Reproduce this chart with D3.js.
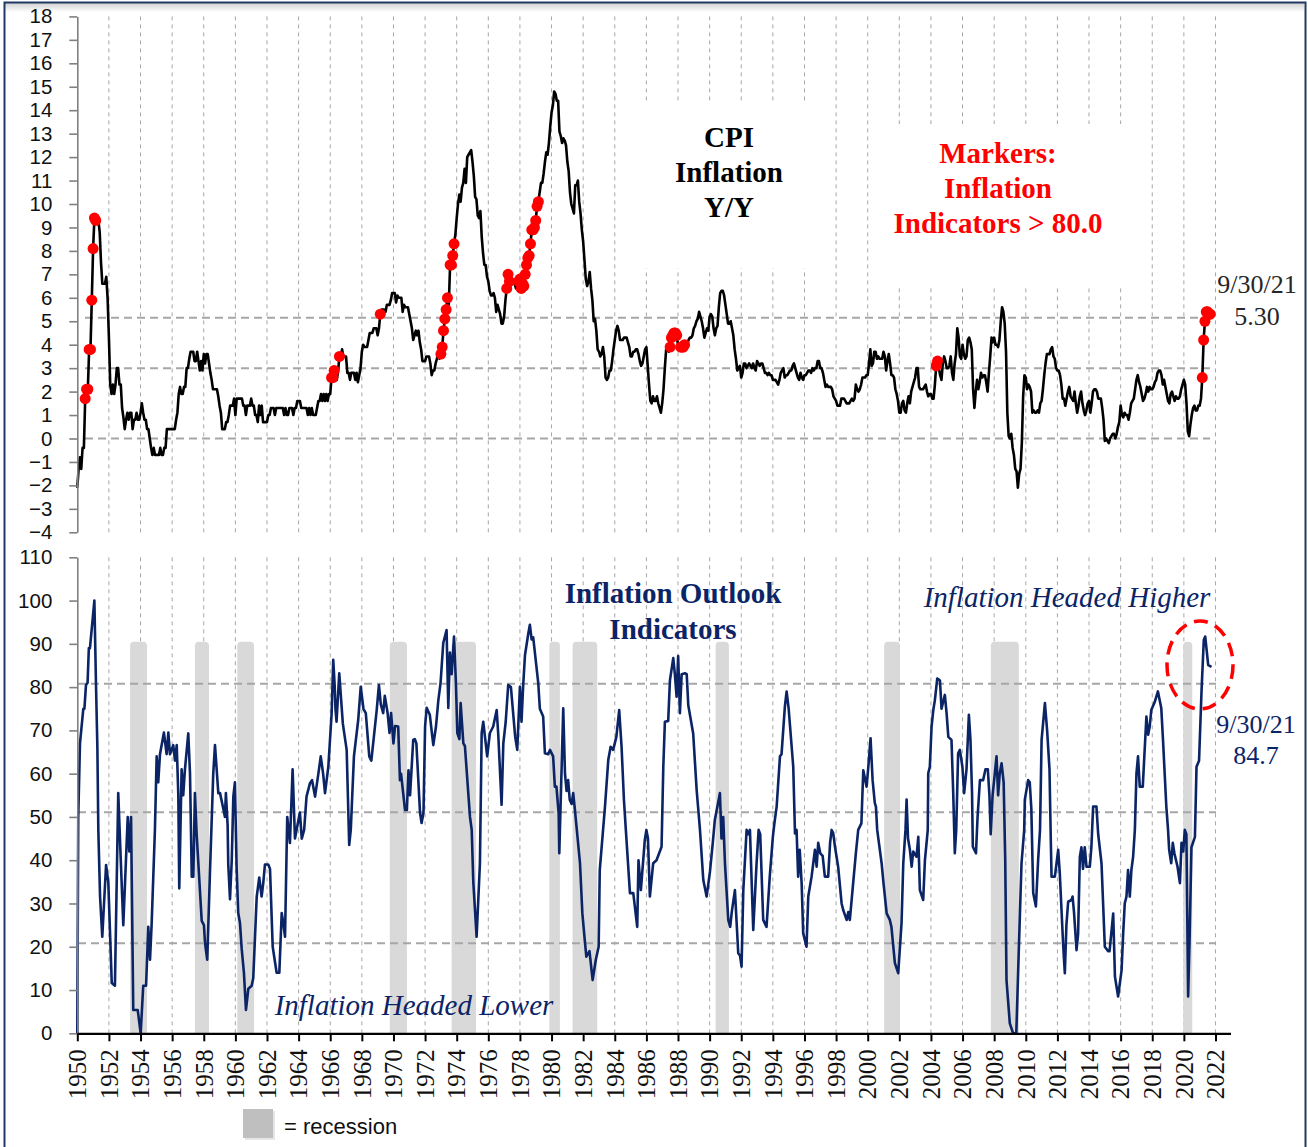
<!DOCTYPE html>
<html><head><meta charset="utf-8">
<script src="https://cdn.jsdelivr.net/npm/d3@7"></script>
<style>body{margin:0;background:#fff} svg{display:block}</style>
</head><body>
<svg id="c" width="1308" height="1147"></svg>
<script>
// ---------- DATA ----------
const cpiStartYear = 1950;
// CPI inflation Y/Y (%), monthly, Jan 1950 .. Sep 2021
const cpiValues = [
-2.1,-1.3,-0.8,-1.3,-0.4,-0.4,1.7,2.1,2.1,3.8,3.8,5.9,
8.1,9.4,9.3,9.3,9.3,8.8,7.5,6.6,6.6,6.6,6.9,6.0,
4.3,2.3,1.9,2.3,1.9,2.3,3.0,3.0,2.3,2.3,1.3,0.9,
0.4,0.8,1.1,0.8,1.1,1.1,0.4,0.8,0.8,1.1,0.8,0.8,
1.1,1.5,1.1,0.8,0.8,0.4,0.4,0.0,-0.4,-0.7,-0.4,-0.7,
-0.7,-0.7,-0.7,-0.4,-0.7,-0.7,-0.4,-0.4,0.4,0.4,0.4,0.4,
0.4,0.4,0.4,0.8,1.1,1.9,2.2,1.9,1.9,2.2,2.2,3.0,
3.0,3.4,3.7,3.7,3.7,3.3,3.3,3.7,3.3,2.9,3.3,2.9,
3.6,3.2,3.6,3.6,3.2,2.8,2.5,2.1,2.1,2.1,2.1,1.8,
1.4,1.1,0.4,0.4,0.4,0.7,0.7,1.0,1.4,1.4,1.4,1.7,
1.0,1.7,1.7,1.7,1.7,1.7,1.4,1.4,1.0,1.4,1.4,1.4,
1.7,1.4,1.4,1.0,1.0,0.7,1.4,1.0,1.4,0.7,0.7,0.7,
0.7,1.0,1.0,1.3,1.3,1.3,1.0,1.3,1.3,1.3,1.3,1.3,
1.3,1.0,1.3,1.0,1.0,1.3,1.3,1.3,1.0,1.3,1.3,1.6,
1.6,1.6,1.3,1.3,1.3,1.3,1.3,1.0,1.3,1.0,1.3,1.0,
1.0,1.0,1.3,1.6,1.6,1.9,1.6,1.9,1.6,1.9,1.6,1.9,
1.9,2.6,2.6,2.9,2.9,2.5,2.9,3.5,3.5,3.8,3.5,3.5,
3.5,2.8,2.8,2.5,2.8,2.8,2.8,2.5,2.8,2.4,2.7,3.0,
3.7,4.0,3.9,3.9,3.9,4.2,4.5,4.5,4.5,4.7,4.7,4.7,
4.4,4.7,5.3,5.5,5.5,5.5,5.4,5.7,5.7,5.7,5.9,6.2,
6.2,6.2,5.8,6.1,6.0,6.0,6.0,5.4,5.7,5.6,5.6,5.6,
5.3,5.0,4.7,4.2,4.4,4.6,4.4,4.6,4.1,3.8,3.3,3.3,
3.3,3.5,3.5,3.5,3.2,2.7,2.9,2.9,3.2,3.4,3.7,3.4,
3.6,3.9,4.6,5.1,5.5,6.0,5.7,7.4,7.4,7.8,8.3,8.7,
9.4,10.0,10.4,10.1,10.7,10.9,11.5,10.9,12.0,12.1,12.2,12.3,
11.8,11.2,10.3,10.2,9.5,9.4,9.7,8.6,7.9,7.4,7.4,6.9,
6.7,6.3,6.1,6.1,6.2,6.0,5.4,5.7,5.5,5.3,4.9,4.9,
5.2,5.9,6.4,7.0,6.7,6.9,6.8,6.6,6.6,6.4,6.7,6.7,
6.8,6.4,6.6,6.5,7.0,7.4,7.7,7.8,8.3,8.9,8.9,9.0,
9.3,9.9,10.1,10.5,10.9,10.9,11.3,11.8,12.2,12.1,12.6,13.3,
13.9,14.2,14.8,14.7,14.4,14.4,13.1,12.9,12.6,12.8,12.7,12.5,
11.8,11.4,10.5,10.0,9.8,9.6,10.8,10.8,11.0,10.1,9.6,8.9,
8.4,7.6,6.8,6.5,6.7,7.1,6.4,5.9,5.0,5.1,4.6,3.8,
3.7,3.5,3.6,3.9,3.5,2.6,2.5,2.6,2.9,2.9,3.3,3.8,
4.2,4.6,4.8,4.6,4.2,4.2,4.2,4.3,4.3,4.3,4.1,3.9,
3.5,3.5,3.7,3.7,3.8,3.8,3.6,3.3,3.1,3.2,3.5,3.8,
3.9,3.1,2.3,1.6,1.5,1.8,1.6,1.6,1.8,1.5,1.3,1.1,
1.5,2.1,3.0,3.8,3.9,3.7,3.9,4.3,4.4,4.5,4.5,4.4,
4.0,3.9,3.9,3.9,3.9,4.0,4.1,4.0,4.2,4.3,4.3,4.4,
4.7,4.8,5.0,5.1,5.4,5.2,5.0,4.7,4.3,4.5,4.7,4.6,
5.2,5.3,5.2,4.7,4.4,4.7,4.8,5.6,6.2,6.3,6.3,6.1,
5.7,5.3,4.9,4.9,5.0,4.7,4.4,3.8,3.4,2.9,3.0,3.1,
2.6,2.8,3.2,3.2,3.0,3.1,3.2,3.1,3.0,3.2,3.0,2.9,
3.3,3.2,3.1,3.2,3.2,3.0,2.8,2.8,2.7,2.8,2.7,2.7,
2.5,2.5,2.5,2.4,2.3,2.5,2.8,2.9,3.0,2.6,2.7,2.7,
2.8,2.9,2.9,3.1,3.2,3.0,2.8,2.6,2.5,2.8,2.6,2.5,
2.7,2.7,2.8,2.9,2.9,2.8,3.0,2.9,3.0,3.0,3.3,3.3,
3.0,3.0,2.8,2.5,2.2,2.3,2.2,2.2,2.2,2.1,1.8,1.7,
1.6,1.4,1.4,1.4,1.7,1.7,1.7,1.6,1.5,1.5,1.5,1.6,
1.7,1.6,1.7,2.3,2.1,2.0,2.1,2.3,2.6,2.6,2.6,2.7,
2.7,3.2,3.8,3.1,3.2,3.7,3.7,3.4,3.5,3.4,3.4,3.4,
3.7,3.5,2.9,3.3,3.6,3.2,2.7,2.7,2.6,2.1,1.9,1.6,
1.1,1.1,1.5,1.6,1.2,1.1,1.5,1.8,1.5,2.0,2.2,2.4,
2.6,3.0,3.0,2.2,2.1,2.1,2.1,2.2,2.3,2.0,1.8,1.9,
1.9,1.7,1.7,2.3,3.1,3.3,3.0,2.7,2.5,3.2,3.5,3.3,
3.0,3.0,3.1,3.5,2.8,2.5,3.2,3.6,4.7,4.3,3.5,3.4,
4.0,3.6,3.4,3.5,4.2,4.3,4.1,3.8,2.1,1.3,2.0,2.5,
2.1,2.4,2.8,2.6,2.7,2.7,2.4,2.0,2.8,3.5,4.3,4.1,
4.3,4.0,4.0,3.9,4.2,5.0,5.6,5.4,4.9,3.7,1.1,0.1,
0.0,0.2,-0.4,-0.7,-1.3,-1.4,-2.1,-1.5,-1.3,-0.2,1.8,2.7,
2.6,2.1,2.3,2.2,2.0,1.1,1.2,1.1,1.1,1.2,1.1,1.5,
1.6,2.1,2.7,3.2,3.6,3.6,3.6,3.8,3.9,3.5,3.4,3.0,
2.9,2.9,2.7,2.3,1.7,1.7,1.4,1.7,2.0,2.2,1.8,1.7,
1.6,2.0,1.5,1.1,1.4,1.8,2.0,1.5,1.2,1.0,1.2,1.5,
1.6,1.1,1.5,2.0,2.1,2.1,2.0,1.7,1.7,1.7,1.3,0.8,
-0.1,0.0,-0.1,-0.2,0.0,0.1,0.2,0.2,0.0,0.2,0.5,0.7,
1.4,1.0,0.9,1.1,1.0,1.0,0.8,1.1,1.5,1.6,1.7,2.1,
2.5,2.7,2.4,2.2,1.9,1.6,1.7,1.9,2.2,2.0,2.2,2.1,
2.1,2.2,2.4,2.5,2.8,2.9,2.9,2.7,2.3,2.5,2.2,1.9,
1.6,1.5,1.9,2.0,1.8,1.6,1.8,1.7,1.7,1.8,2.1,2.3,
2.5,2.3,1.5,0.3,0.1,0.6,1.0,1.3,1.4,1.2,1.2,1.4,
1.4,1.7,2.6,4.2,5.0,5.4,5.4,5.3,5.3
];
// months where the Inflation Outlook Indicators were above 80 (red markers)
const markerMonths = [
"1950-07","1950-08","1950-09","1950-10","1950-11","1950-12","1951-01","1951-02","1951-03",
"1966-02","1966-03","1966-04","1966-08","1969-03",
"1973-01","1973-02","1973-03","1973-04","1973-05","1973-06","1973-08","1973-09","1973-10","1973-11",
"1977-03","1977-04","1977-05","1977-12",
"1978-01","1978-02","1978-03","1978-04","1978-05","1978-06","1978-07","1978-08","1978-09","1978-10","1978-11","1978-12",
"1979-01","1979-02","1979-03",
"1987-07","1987-08","1987-09","1987-10","1987-11","1987-12","1988-03","1988-04","1988-05","1988-06",
"2004-05","2004-06",
"2021-03","2021-04","2021-05","2021-06","2021-07","2021-08","2021-09"
];
// Inflation Outlook Indicators
const indYears = [
1950.0,1950.06,1950.17,1950.38,1950.45,1950.55,1950.65,1950.73,1950.8,1951.08,1951.18,1951.27,1951.33,1951.44,1951.58,1951.82,1951.96,
1952.18,1952.38,1952.59,1952.75,1952.91,1953.19,1953.29,1953.4,1953.54,1953.82,1954.01,1954.17,1954.35,1954.49,1954.6,1954.7,1954.91,
1955.02,1955.12,1955.23,1955.48,1955.65,1955.76,1955.86,1956.07,1956.18,1956.29,1956.39,1956.45,1956.6,1956.7,1956.81,
1957.02,1957.13,1957.24,1957.34,1957.44,1957.55,1957.87,1958.01,1958.08,1958.22,1958.39,1958.6,1958.71,1958.92,
1959.03,1959.23,1959.34,1959.4,1959.51,1959.55,1959.66,1959.77,1959.87,1959.97,1960.08,1960.18,1960.29,1960.4,1960.54,1960.67,1960.82,
1961.03,1961.13,1961.35,1961.51,1961.66,1961.76,1961.87,1962.08,1962.19,1962.36,1962.61,1962.78,1962.93,1963.03,1963.14,1963.28,1963.45,1963.62,1963.77,
1964.08,1964.2,1964.35,1964.5,1964.72,1964.85,1965.04,1965.25,1965.4,1965.55,1965.67,1965.88,1966.09,1966.19,1966.28,1966.33,1966.4,1966.57,1966.8,
1967.04,1967.2,1967.3,1967.5,1967.77,1967.93,1968.1,1968.25,1968.47,1968.6,1968.94,1969.08,1969.2,1969.35,1969.45,1969.63,1969.75,1969.85,
1970.0,1970.1,1970.3,1970.41,1970.48,1970.73,1970.85,1970.95,1971.05,1971.25,1971.35,1971.45,1971.68,1971.78,1971.9,
1972.0,1972.1,1972.3,1972.52,1972.69,1972.84,1972.98,1973.15,1973.36,1973.47,1973.57,1973.68,1973.83,1973.95,
1974.04,1974.17,1974.25,1974.42,1974.52,1974.84,1974.95,1975.05,1975.26,1975.47,1975.58,1975.68,1975.93,
1976.1,1976.31,1976.53,1976.63,1976.84,1976.95,1977.1,1977.26,1977.43,1977.7,1977.83,1978.0,1978.1,1978.2,1978.32,1978.53,1978.63,1978.74,1978.84,
1979.16,1979.26,1979.47,1979.58,1979.79,1979.9,1980.1,1980.21,1980.31,1980.45,1980.49,1980.74,1980.85,1980.95,
1981.05,1981.15,1981.27,1981.37,1981.48,1981.8,1981.95,1982.1,1982.2,1982.4,1982.6,1982.8,1982.98,
1983.05,1983.38,1983.59,1983.74,1983.9,1984.1,1984.28,1984.43,1984.58,1984.7,1984.96,1985.17,1985.42,1985.5,1985.65,1985.9,
1986.0,1986.1,1986.22,1986.43,1986.64,1986.96,1987.07,1987.17,1987.38,1987.49,1987.7,1987.8,1987.91,1988.01,1988.12,1988.23,1988.44,1988.55,1988.65,1988.96,
1989.18,1989.39,1989.6,1989.81,1990.02,1990.2,1990.33,1990.65,1990.75,1990.86,1990.97,1991.18,1991.3,1991.4,1991.6,1991.81,1991.92,
1992.02,1992.13,1992.34,1992.45,1992.55,1992.76,1992.97,1993.1,1993.2,1993.39,1993.6,1993.8,1994.0,1994.1,1994.24,1994.45,1994.55,1994.76,1994.87,
1995.0,1995.29,1995.4,1995.5,1995.6,1995.7,1995.82,1995.92,1996.13,1996.24,1996.45,1996.66,1996.77,1996.87,
1997.0,1997.15,1997.29,1997.5,1997.62,1997.72,1997.82,1997.93,1998.13,1998.35,1998.45,1998.67,1998.77,1998.87,
1999.08,1999.25,1999.4,1999.6,1999.72,1999.93,2000.04,2000.18,2000.31,2000.45,2000.52,2000.6,2000.88,2000.98,
2001.2,2001.4,2001.5,2001.72,2001.93,2002.14,2002.25,2002.39,2002.46,2002.55,2002.67,2002.78,2002.88,
2003.09,2003.2,2003.3,2003.51,2003.62,2003.8,2003.83,2003.93,2004.04,2004.15,2004.25,2004.4,2004.57,2004.67,2004.88,2004.99,
2005.1,2005.3,2005.41,2005.51,2005.6,2005.72,2005.83,2005.99,2006.1,2006.25,2006.4,2006.5,2006.6,2006.65,2006.85,2006.95,
2007.1,2007.3,2007.45,2007.6,2007.7,2007.78,2007.9,2008.15,2008.25,2008.35,2008.47,2008.6,2008.7,2008.78,2008.99,
2009.2,2009.4,2009.52,2009.63,2009.73,2009.9,2009.94,2010.15,2010.25,2010.35,2010.47,2010.64,2010.78,2010.9,
2011.0,2011.21,2011.35,2011.5,2011.58,2011.63,2011.84,2012.05,2012.15,2012.37,2012.47,2012.57,2012.68,2012.89,2012.96,
2013.05,2013.21,2013.31,2013.42,2013.52,2013.62,2013.73,2013.84,2014.05,2014.15,2014.26,2014.47,2014.58,2014.79,
2015.0,2015.2,2015.3,2015.43,2015.53,2015.64,2015.84,2016.06,2016.16,2016.26,2016.37,2016.47,2016.58,2016.68,2016.79,2016.9,
2017.0,2017.1,2017.21,2017.4,2017.63,2017.74,2017.84,2017.94,2018.15,2018.36,2018.57,2018.68,2018.89,
2019.0,2019.07,2019.2,2019.3,2019.4,2019.6,2019.75,2019.85,2019.96,2020.06,2020.16,2020.27,2020.37,2020.48,2020.7,2020.8,2020.96,
2021.12,2021.26,2021.35,2021.54,2021.75
];
const indValues = [
0,50,67,75,75,80.5,81,89,89,100,81,66,47,31.6,22.3,38.9,35,
11.6,11,55.5,40,25,50,42,50,5.4,5.4,0,11,11,24.6,17,25,47,
64,58,64.5,69.5,64.5,69.5,64.5,66.6,63,66.6,55,33.5,61,55,61,
69.3,60,36.2,36.2,55.5,46,26,25,20.8,17,37,60,66.6,55.5,
55.5,52,50,55.5,48,39,31,40,54.7,58,38,27.8,25.5,19.5,14,5.4,10.3,
11,12.7,31.6,36,31.6,34.6,39,39,38,20,14,14,27.8,25.5,22.3,50,44,61,45,
51,45,47,54.7,57.8,58.5,54.7,60,64,60,55.5,61.6,74,86.3,80.5,75,72,83.2,71.5,
65.5,43.5,47,64,72.4,80.1,75,74,64,63,74.7,80.5,76,74,78,74,69.4,74,
67,71,70.9,58.5,60,51.6,51.6,60.8,55,67.8,68,67,51,48.6,51,
70.9,75.2,73.6,66.6,70.9,77,81,90.2,93.2,75.2,88,83,91.7,81,
69.4,68,76.3,67,66.4,50,47,35,22.3,39.3,69.4,72,64,
69.4,70.9,74.7,69,52.8,67,72,80.5,80,68.5,65.5,80.1,72,80,87.4,92.4,94.4,91,91.5,
80.9,75,73.2,64.7,64.5,65.5,64,57,57,50.8,41.6,75.1,60,56,
58.5,54,53,55.5,51.6,39.3,27.7,21.6,17.7,19,12.3,17,20,
37.7,52.4,63.2,66.2,65.5,68.5,74.7,66.2,53.9,47,32.4,32.4,24.6,40,33.1,44.7,
47,45,31.6,39.3,40,43.1,61.6,72,72.2,81.6,86.7,83,77.8,87.2,74,83,83.2,83,75.8,69.3,
56.2,47,35.4,31.6,37.3,44,49.3,55.5,45,50,39.3,26.2,24.6,28,33.1,18.5,18,
15.4,33,47,46,47,23.9,39.3,47,46,26.2,24.6,36,45.4,48.6,52.4,64,64.5,75.5,79,
75,61.6,46.2,47,36.2,42.4,34.7,23.1,20,31.6,36.2,42.4,38.5,44,
41.6,41,36.2,36.2,44,47,46.2,43.1,38.5,30,28.5,26.2,28,26.2,
34.7,41.6,47,48.5,60.8,57,61.6,68.2,58.5,53.2,52.4,47,39.3,35.4,
27.7,26.2,24.6,16.2,13.9,25.4,39.3,47,54,45,42.4,38.5,42,
40.8,45.4,33.1,30.8,40,47,60.1,61.6,70.9,74.7,77,82,81.5,75,78.2,74,
68.5,67.8,55.5,41.6,47,64.7,65.5,61.6,55.5,61,73.6,67.8,55.5,43.1,41.6,50,
58.5,58.5,61,61,55,46,55,64,55,60,62.4,58,40,12.3,2.3,
0,0,14.6,27.7,39.3,47,54,58.5,58,52,32.4,29.3,40,47,
67.8,76.3,70,61,45,36.2,36.2,42.4,37,20,13.9,25,30.4,30.8,31.6,
28,19.2,23,40.8,43,38,43,38.5,38.5,43,52.4,52.4,46,39.3,
20,19,19,23.9,27.7,13.1,8.5,14.6,23,30,31.6,37.7,31.6,37.7,40.8,47,
60,64,57,57,73.2,69,70.9,74.7,76.5,79,75.2,67.8,52.4,
47,42.4,39.3,44,41.6,38.5,34.7,44,42,47,46,8.5,23,43,45.4,61.6,63,
79.3,90.9,91.7,85.1,84.7
];
// recession periods (start, end) as read from the shading
const recessionStarts = [1953.34,1957.44,1960.12,1969.77,1973.68,1979.86,1981.33,1990.38,2001.04,2007.79,2019.96];
const recessionEnds   = [1954.41,1958.33,1961.18,1970.85,1975.22,1980.53,1982.89,1991.22,2002.04,2009.56,2020.53];
const yearTicks = d3.range(1950, 2023, 2);
const cpiTicks = d3.range(-4, 19, 1);
const indTicks = d3.range(0, 111, 10);
const cpiRefLines = [0, 3.0, 5.15];
const indRefLines = [20.8, 51.1, 80.8];

// ---------- DRAW ----------
const svg = d3.select("#c");
const navy = "#0b2466";
const grid = "#a6a6a6";
const serif = "'Liberation Serif','Times New Roman',serif";

// frame
const defs = svg.append("defs");
const g1 = defs.append("linearGradient").attr("id","topShade").attr("x1",0).attr("y1",0).attr("x2",0).attr("y2",1);
g1.append("stop").attr("offset","0%").attr("stop-color","#d0d0d0");
g1.append("stop").attr("offset","100%").attr("stop-color","#ffffff");
svg.append("rect").attr("x",5).attr("y",3).attr("width",1299).attr("height",9).attr("fill","url(#topShade)");
svg.append("rect").attr("x",4.5).attr("y",2.5).attr("width",1301).attr("height",1160)
  .attr("fill","none").attr("stroke","#1f3864").attr("stroke-width",2);

const x = d3.scaleLinear().domain([1950, 2022.95]).range([77.3, 1230.5]);
const yTop = d3.scaleLinear().domain([-4, 18]).range([532.3, 16.4]);
const yBot = d3.scaleLinear().domain([0, 110]).range([1033.3, 557.3]);

const cpiData = cpiValues.map((v,i)=>({t: cpiStartYear + i/12, v}));
const cpiByMonth = new Map(cpiValues.map((v,i)=>{
  const yr = cpiStartYear + Math.floor(i/12), m = i%12 + 1;
  return [yr + "-" + String(m).padStart(2,"0"), {t: cpiStartYear + i/12, v}];
}));
const markerData = markerMonths.map(k=>cpiByMonth.get(k)).filter(Boolean);
const indData = indYears.map((t,i)=>({t, v: indValues[i]}));

// vertical gridlines
const gridYears = yearTicks.filter(y=>y>1950);
svg.append("g").selectAll("line").data(gridYears).join("line")
  .attr("x1",d=>x(d)).attr("x2",d=>x(d)).attr("y1",yTop(18)).attr("y2",yTop(-4))
  .attr("stroke",grid).attr("stroke-width",1).attr("stroke-dasharray","4,4");
svg.append("g").selectAll("line").data(gridYears).join("line")
  .attr("x1",d=>x(d)).attr("x2",d=>x(d)).attr("y1",yBot(110)).attr("y2",yBot(0))
  .attr("stroke",grid).attr("stroke-width",1).attr("stroke-dasharray","4,4");

// white boxes behind top-panel captions
svg.append("rect").attr("x",625).attr("y",104).attr("width",195).attr("height",164).attr("fill","#fff");
svg.append("rect").attr("x",880).attr("y",124).attr("width",255).attr("height",164).attr("fill","#fff");

// recession bars
const rr = 4;
svg.append("g").selectAll("path").data(recessionStarts.map((s,i)=>[s, recessionEnds[i]])).join("path")
  .attr("d",d=>{
    const x0 = x(d[0]), x1 = x(d[1]), yt = yBot(90.5), yb = yBot(0);
    return `M${x0},${yb}V${yt+rr}Q${x0},${yt} ${x0+rr},${yt}H${x1-rr}Q${x1},${yt} ${x1},${yt+rr}V${yb}Z`;
  })
  .attr("fill","#d9d9d9");

// horizontal reference lines
svg.append("g").selectAll("line").data(cpiRefLines).join("line")
  .attr("x1",85).attr("x2",1210).attr("y1",d=>yTop(d)).attr("y2",d=>yTop(d))
  .attr("stroke",grid).attr("stroke-width",2).attr("stroke-dasharray","8,5");
svg.append("g").selectAll("line").data(indRefLines).join("line")
  .attr("x1",78).attr("x2",1216).attr("y1",d=>yBot(d)).attr("y2",d=>yBot(d))
  .attr("stroke",grid).attr("stroke-width",2).attr("stroke-dasharray","8,5");

// series lines
svg.append("path").datum(cpiData)
  .attr("d", d3.line().x(d=>x(d.t)).y(d=>yTop(d.v)))
  .attr("fill","none").attr("stroke","#000").attr("stroke-width",2.6).attr("stroke-linejoin","round");
svg.append("path").datum(indData)
  .attr("d", d3.line().x(d=>x(d.t)).y(d=>yBot(d.v)))
  .attr("fill","none").attr("stroke",navy).attr("stroke-width",2.6).attr("stroke-linejoin","round");

// markers
svg.append("g").selectAll("circle").data(markerData).join("circle")
  .attr("cx",d=>x(d.t)).attr("cy",d=>yTop(d.v)).attr("r",5.5).attr("fill","#ff0000");

// axes
const tickFont = "'Liberation Sans', Arial, sans-serif";
function styleY(g){
  g.select(".domain").attr("stroke","#808080").attr("stroke-width",1.6);
  g.selectAll(".tick line").attr("stroke","#808080").attr("stroke-width",1.6);
  g.selectAll(".tick text").attr("font-family",tickFont).attr("font-size",20.5).attr("fill","#111");
}
svg.append("g").attr("transform",`translate(${x(1950)},0)`)
  .call(d3.axisLeft(yTop).tickValues(cpiTicks).tickSize(8).tickPadding(17).tickSizeOuter(0).tickFormat(d3.format("d")))
  .call(styleY);
svg.append("g").attr("transform",`translate(${x(1950)},0)`)
  .call(d3.axisLeft(yBot).tickValues(indTicks).tickSize(8).tickPadding(17).tickSizeOuter(0).tickFormat(d3.format("d")))
  .call(styleY);
const xa = svg.append("g").attr("transform",`translate(0,${yBot(0)})`)
  .call(d3.axisBottom(x).tickValues(yearTicks).tickSize(8).tickSizeOuter(0).tickFormat(d3.format("d")));
xa.select(".domain").attr("stroke","#000").attr("stroke-width",2.2);
xa.selectAll(".tick line").attr("stroke","#000").attr("stroke-width",2);
xa.selectAll(".tick text")
  .attr("font-family",serif).attr("font-size",25).attr("fill","#111")
  .attr("transform","rotate(-90)").attr("text-anchor","end")
  .attr("x",-16).attr("y",0).attr("dy","0.33em");

// captions
function lines(txt, cx, ys, opts){
  txt.forEach((t,i)=>{
    svg.append("text").attr("x",cx).attr("y",ys[i]).attr("text-anchor","middle")
      .attr("font-family",serif).attr("font-size",opts.size).attr("fill",opts.fill)
      .attr("font-weight",opts.weight||"normal").attr("font-style",opts.style||"normal").text(t);
  });
}
lines(["CPI","Inflation","Y/Y"], 729, [147,182,217], {size:29, fill:"#000", weight:"bold"});
lines(["Markers:","Inflation","Indicators > 80.0"], 998, [163,198,233], {size:29, fill:"#ff0000", weight:"bold"});
lines(["9/30/21","5.30"], 1257, [293,325], {size:26, fill:"#262626"});
lines(["Inflation Outlook","Indicators"], 673, [603,639], {size:29, fill:navy, weight:"bold"});
lines(["Inflation Headed Higher"], 1067, [607], {size:29, fill:navy, style:"italic"});
lines(["Inflation Headed Lower"], 414, [1015], {size:29, fill:navy, style:"italic"});
lines(["9/30/21","84.7"], 1256, [733,764], {size:26, fill:navy});

// red dashed ellipse
svg.append("ellipse").attr("cx",1200).attr("cy",665).attr("rx",33).attr("ry",44)
  .attr("fill","none").attr("stroke","#ff0000").attr("stroke-width",3.5).attr("stroke-dasharray","14,8");

// legend
svg.append("rect").attr("x",245).attr("y",1111).attr("width",30).attr("height",29).attr("fill","#e6e6e6");
svg.append("rect").attr("x",243).attr("y",1109).attr("width",30).attr("height",29).attr("fill","#bfbfbf");
svg.append("text").attr("x",284).attr("y",1134).attr("font-family","'Liberation Sans',Arial,sans-serif")
  .attr("font-size",22).attr("fill","#111").text("= recession");
</script>
</body></html>
